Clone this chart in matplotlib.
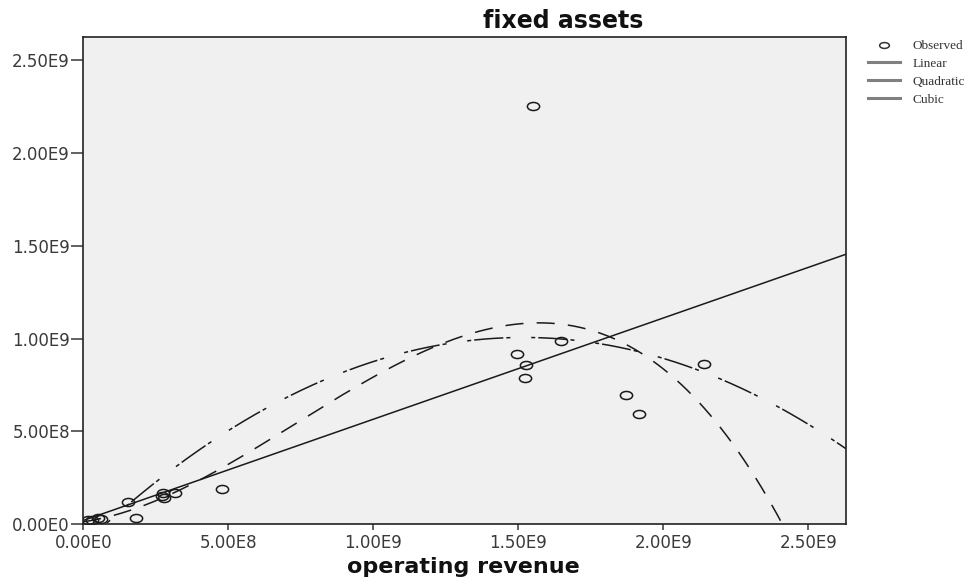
import matplotlib
matplotlib.use("Agg")
import matplotlib.pyplot as plt
import numpy as np
from matplotlib.lines import Line2D
from matplotlib.path import Path
from matplotlib.transforms import Affine2D

plt.rcParams["lines.scale_dashes"] = False

# observed points (operating revenue, fixed assets)
revenue = [0.017e9, 0.030e9, 0.052e9, 0.060e9, 0.155e9, 0.182e9, 0.270e9,
           0.276e9, 0.279e9, 0.316e9, 0.477e9, 1.494e9, 1.527e9, 1.523e9,
           1.552e9, 1.647e9, 1.870e9, 1.915e9, 2.140e9]
assets = [0.022e9, 0.020e9, 0.030e9, 0.028e9, 0.121e9, 0.030e9, 0.150e9,
          0.166e9, 0.138e9, 0.166e9, 0.191e9, 0.915e9, 0.858e9, 0.787e9,
          2.254e9, 0.987e9, 0.696e9, 0.592e9, 0.863e9]

# fitted curve coefficients (in units of 1E9), lowest order first
linear_coef = [0.019, 0.546]
quadratic_coef = [-0.1115, 1.4728, -0.4852]
cubic_coef = [0.0119, 0.2303, 1.0100, -0.4595]

tick_values = [0, 0.5e9, 1.0e9, 1.5e9, 2.0e9, 2.5e9]
tick_labels = ["0.00E0", "5.00E8", "1.00E9", "1.50E9", "2.00E9", "2.50E9"]

x_max = 2.629e9
y_max = 2.625e9

fig = plt.figure(figsize=(9.66, 5.82), dpi=100)
ax = fig.add_axes([83.3 / 966, 1 - 524 / 582, (845.7 - 83.3) / 966, (524 - 37.3) / 582])
ax.set_facecolor("#f0f0f0")

# ellipse marker like the SPSS one
ellipse = Path.unit_circle().transformed(Affine2D().scale(1.0, 0.66))

xs = np.linspace(0, x_max, 400)
u = xs / 1e9
ax.plot(xs, np.polynomial.polynomial.polyval(u, linear_coef) * 1e9,
        color="#1a1a1a", lw=1.1)
ax.plot(xs, np.polynomial.polynomial.polyval(u, quadratic_coef) * 1e9,
        color="#1a1a1a", lw=1.1, dashes=(21, 2.2, 2.9, 15, 2.9, 2.2))
ax.plot(xs, np.polynomial.polynomial.polyval(u, cubic_coef) * 1e9,
        color="#1a1a1a", lw=1.1, dashes=(13, 9.5))
ax.plot(revenue, assets, linestyle="none", marker=ellipse, markersize=8.8,
        markerfacecolor="none", markeredgecolor="#1a1a1a", markeredgewidth=1.1)

ax.set_xlim(0, x_max)
ax.set_ylim(0, y_max)
ax.set_xticks(tick_values)
ax.set_xticklabels(tick_labels)
ax.set_yticks(tick_values)
ax.set_yticklabels(tick_labels)
ax.tick_params(axis="x", length=4.5, width=1.3, color="#555555",
               labelsize=12, labelcolor="#3a3a3a", pad=3)
ax.tick_params(axis="y", length=8.6, width=1.3, color="#555555",
               labelsize=12, labelcolor="#3a3a3a", pad=1)
for s in ax.spines.values():
    s.set_linewidth(1.2)
    s.set_color("#222222")

fig.text(563 / 966, 1 - 21 / 582, "fixed assets", ha="center", va="center",
         fontsize=17, fontweight="bold", color="#111111")
fig.text(463 / 966, 1 - 567 / 582, "operating revenue", ha="center", va="center",
         fontsize=16, fontweight="bold", color="#111111")

legend_marker = Path.unit_circle().transformed(Affine2D().scale(1.0, 0.6))
handles = [
    Line2D([], [], linestyle="none", marker=legend_marker, markersize=7,
           markerfacecolor="none", markeredgecolor="#333333", markeredgewidth=1.1),
    Line2D([], [], color="#808080", lw=2.2),
    Line2D([], [], color="#808080", lw=2.2),
    Line2D([], [], color="#808080", lw=2.2),
]
labels = ["Observed", "Linear", "Quadratic", "Cubic"]
fig.legend(handles, labels, loc="upper left",
           bbox_to_anchor=(867.5 / 966, 1 - 40 / 582), frameon=False,
           prop={"family": "Liberation Serif", "size": 9.5},
           labelcolor="#333333", borderpad=0, borderaxespad=0,
           handlelength=2.5, handletextpad=0.9, labelspacing=0.42)

fig.savefig("out.png", dpi=100)
